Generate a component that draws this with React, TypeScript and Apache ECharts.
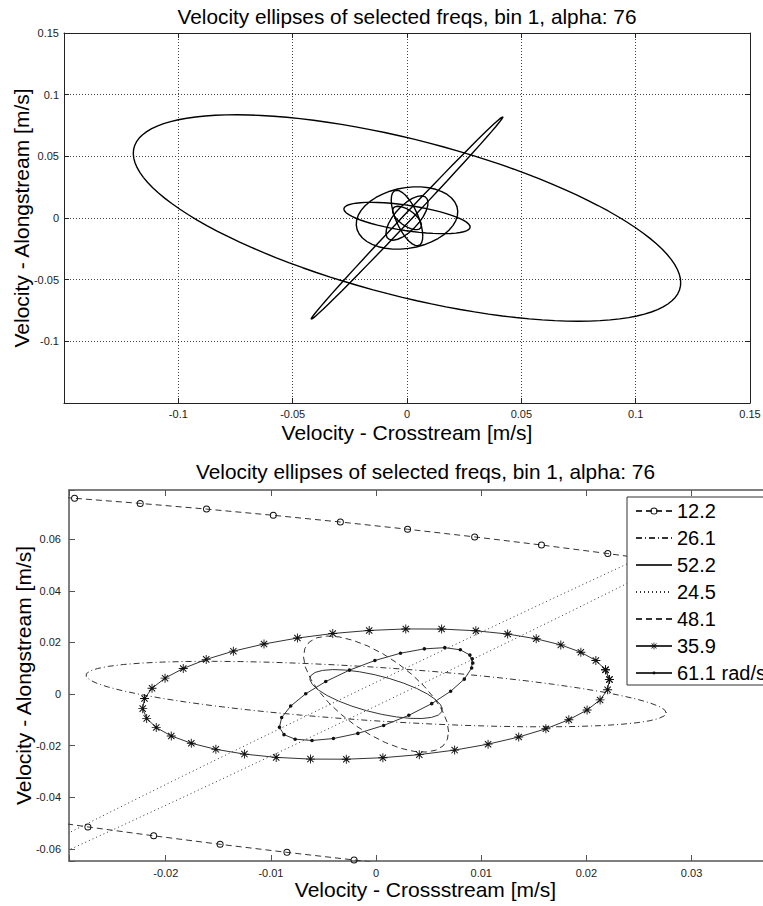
import React, { useEffect, useRef } from "react";
import * as echarts from "echarts";

// ---- data ----
const freqLabels = ["12.2", "26.1", "52.2", "24.5", "48.1", "35.9", "61.1 rad/s"];
const freqs = [12.2, 26.1, 52.2, 24.5, 48.1, 35.9, 61.1]; // rad/s
// ellipse parameters: crosstream amplitude, alongstream amplitude [m/s], phase lag of alongstream [deg]
const crossAmp = [0.1197, 0.0276, 0.0063, 0.042, 0.0069, 0.0222, 0.0092];
const alongAmp = [0.0837, 0.0127, 0.0095, 0.0822, 0.0225, 0.0253, 0.018];
const phaseLagDeg = [128.8, 125, 129, 3.2, 130.7, 78.8, 47];
const startPhaseDeg = [-0.12, 0, 0, 0, 0, 1.7, -1.2];
const sampleDt = 0.004375; // s, time step between samples

const topTickLabels = [-0.1, -0.05, 0, 0.05, 0.1, 0.15];
const bottomXTickLabels = [-0.02, -0.01, 0, 0.01, 0.02, 0.03];
const bottomYTickLabels = [-0.06, -0.04, -0.02, 0, 0.02, 0.04, 0.06];

const titleText = "Velocity ellipses of selected freqs, bin 1, alpha: 76";

// ---- styles ----
const FONT = "'Liberation Sans', Arial, Helvetica, sans-serif";
const ringSymbol =
  "path://M5 0A5 5 0 1 1 5 10A5 5 0 1 1 5 0Z M5 1.4A3.6 3.6 0 1 0 5 8.6A3.6 3.6 0 1 0 5 1.4Z";
const starSymbol =
  "path://M4.5 0L5.5 0L5.5 10L4.5 10Z M0 4.5L10 4.5L10 5.5L0 5.5Z M1.1 1.9L1.9 1.1L8.9 8.1L8.1 8.9Z M8.1 1.1L8.9 1.9L1.9 8.9L1.1 8.1Z";
const dotSymbol =
  "path://M0 0L0.05 0L0 0.05Z M10 10L9.95 10L10 9.95Z M5 3A2 2 0 1 1 5 7A2 2 0 1 1 5 3Z";
const lineTypes: any[] = [[6, 4], [6, 3, 1, 3], "solid", [1, 3], [6, 4], "solid", "solid"];
const symbols = [ringSymbol, "circle", "circle", "circle", "circle", starSymbol, dotSymbol];
const symbolSizes = [7, 0, 0, 0, 0, 9, 9];
const hasMarker = [true, false, false, false, false, true, true];

function ellipsePoints(i: number): number[][] {
  const w = freqs[i];
  const step = w * sampleDt;
  const n = Math.ceil((2 * Math.PI) / step);
  const ph = (phaseLagDeg[i] * Math.PI) / 180;
  const s0 = (startPhaseDeg[i] * Math.PI) / 180;
  const pts: number[][] = [];
  for (let k = 0; k <= n; k++) {
    const th = k * step + s0;
    pts.push([crossAmp[i] * Math.cos(th), alongAmp[i] * Math.cos(th - ph)]);
  }
  return pts;
}

const fmt = (v: number) => String(Number(v.toFixed(4)));
const labelFrom = (list: number[]) => (v: number) =>
  list.some((l) => Math.abs(l - v) < 1e-9) ? fmt(v) : "";

export default function App() {
  const ref = useRef<HTMLDivElement>(null);
  useEffect(() => {
    if (!ref.current) return;
    const chart = echarts.init(ref.current, undefined, { renderer: "svg" });

    const axisColor = "#222";
    const labelStyle = { fontSize: 11, color: "#222", fontFamily: FONT };
    const nameStyle = { fontSize: 21, color: "#000", fontFamily: FONT };

    const topX = (pos: string, main: boolean) => ({
      gridIndex: 0,
      type: "value",
      position: pos,
      min: -0.15,
      max: 0.15,
      interval: 0.05,
      axisLine: { show: true, onZero: false, lineStyle: { color: axisColor, width: 1 } },
      axisTick: { show: true, inside: true, length: 5, lineStyle: { color: axisColor } },
      axisLabel: main
        ? { show: true, margin: 5, formatter: labelFrom(topTickLabels), ...labelStyle }
        : { show: false },
      splitLine: main
        ? { show: true, lineStyle: { type: [1, 2], color: "#444", width: 1 } }
        : { show: false },
      name: main ? "Velocity - Crosstream [m/s]" : "",
      nameLocation: "middle",
      nameGap: 19,
      nameMoveOverlap: false,
      nameTextStyle: nameStyle,
    });
    const topY = (pos: string, main: boolean) => ({
      gridIndex: 0,
      type: "value",
      position: pos,
      min: -0.15,
      max: 0.15,
      interval: 0.05,
      axisLine: { show: true, onZero: false, lineStyle: { color: axisColor, width: 1 } },
      axisTick: { show: true, inside: true, length: 5, lineStyle: { color: axisColor } },
      axisLabel: main
        ? { show: true, margin: 5, formatter: labelFrom(topTickLabels), ...labelStyle }
        : { show: false },
      splitLine: main
        ? { show: true, lineStyle: { type: [1, 2], color: "#444", width: 1 } }
        : { show: false },
      name: main ? "Velocity - Alongstream [m/s]" : "",
      nameLocation: "middle",
      nameGap: 32,
      nameRotate: 90,
      nameMoveOverlap: false,
      nameTextStyle: nameStyle,
    });
    const botAxisColor = "#555";
    const botX = (pos: string, main: boolean) => ({
      gridIndex: 1,
      type: "value",
      position: pos,
      min: -0.0292,
      max: 0.0386,
      minInterval: 0.01,
      maxInterval: 0.01,
      splitNumber: 7,
      axisLine: { show: true, onZero: false, lineStyle: { color: botAxisColor, width: 1.5 } },
      axisTick: { show: true, inside: true, length: 6, lineStyle: { color: botAxisColor, width: 1 } },
      axisLabel: main
        ? { show: true, margin: 6, formatter: labelFrom(bottomXTickLabels), ...labelStyle }
        : { show: false },
      splitLine: { show: false },
      name: main ? "Velocity - Crossstream [m/s]" : "",
      nameLocation: "middle",
      nameGap: 18,
      nameMoveOverlap: false,
      nameTextStyle: nameStyle,
    });
    const botY = (pos: string, main: boolean) => ({
      gridIndex: 1,
      type: "value",
      position: pos,
      min: -0.0647,
      max: 0.0791,
      minInterval: 0.02,
      maxInterval: 0.02,
      splitNumber: 7,
      axisLine: { show: true, onZero: false, lineStyle: { color: botAxisColor, width: 1.5 } },
      axisTick: { show: true, inside: true, length: 6, lineStyle: { color: botAxisColor, width: 1 } },
      axisLabel: main
        ? { show: true, margin: 8, formatter: labelFrom(bottomYTickLabels), ...labelStyle }
        : { show: false },
      splitLine: { show: false },
      name: main ? "Velocity - Alongstream [m/s]" : "",
      nameLocation: "middle",
      nameGap: 35,
      nameRotate: 90,
      nameMoveOverlap: false,
      nameTextStyle: nameStyle,
    });

    const topSeries = freqs.map((_, i) => ({
      type: "line",
      name: "top " + freqLabels[i],
      xAxisIndex: 0,
      yAxisIndex: 0,
      data: ellipsePoints(i),
      symbol: "none",
      silent: true,
      lineStyle: { color: "#000", width: 1.4, type: "solid" },
      z: 2,
    }));
    const bottomSeries = freqs.map((_, i) => ({
      type: "line",
      name: freqLabels[i],
      xAxisIndex: 2,
      yAxisIndex: 2,
      data: ellipsePoints(i),
      symbol: symbols[i],
      symbolSize: symbolSizes[i],
      showSymbol: hasMarker[i],
      silent: true,
      clip: true,
      itemStyle: { color: hasMarker[i] ? "#111" : "rgba(0,0,0,0)", borderWidth: 0 },
      lineStyle: { color: "#333", width: 1, type: lineTypes[i] },
      z: 2,
    }));

    chart.setOption({
      animation: false,
      backgroundColor: "#fff",
      title: [
        {
          text: titleText,
          left: 407,
          top: 4,
          padding: 0,
          textAlign: "center",
          textStyle: { fontSize: 20.8, fontWeight: "normal", color: "#000", fontFamily: FONT, lineHeight: 24 },
        },
        {
          text: titleText,
          left: 425.5,
          top: 459,
          padding: 0,
          textAlign: "center",
          textStyle: { fontSize: 20.8, fontWeight: "normal", color: "#000", fontFamily: FONT, lineHeight: 24 },
        },
      ],
      grid: [
        { left: 64, top: 33, width: 686, height: 370, containLabel: false, outerBoundsMode: "none" },
        { left: 69, top: 490, width: 713, height: 371, containLabel: false, outerBoundsMode: "none" },
      ],
      xAxis: [topX("bottom", true), topX("top", false), botX("bottom", true), botX("top", false)],
      yAxis: [topY("left", true), topY("right", false), botY("left", true), botY("right", false)],
      legend: {
        data: freqLabels,
        orient: "vertical",
        left: 627,
        top: 497,
        itemWidth: 36,
        itemHeight: 9,
        itemGap: 7,
        padding: [4, 12, 2, 8],
        backgroundColor: "#fff",
        borderColor: "#333",
        borderWidth: 1,
        borderRadius: 0,
        selectedMode: false,
        textStyle: { fontSize: 20, lineHeight: 20, color: "#000", fontFamily: FONT },
        z: 10,
      },
      series: [...topSeries, ...bottomSeries],
    } as any);

    return () => chart.dispose();
  }, []);

  return (
    <div
      ref={ref}
      style={{ position: "absolute", left: 0, top: 0, width: 763, height: 906, background: "#fff" }}
    />
  );
}
